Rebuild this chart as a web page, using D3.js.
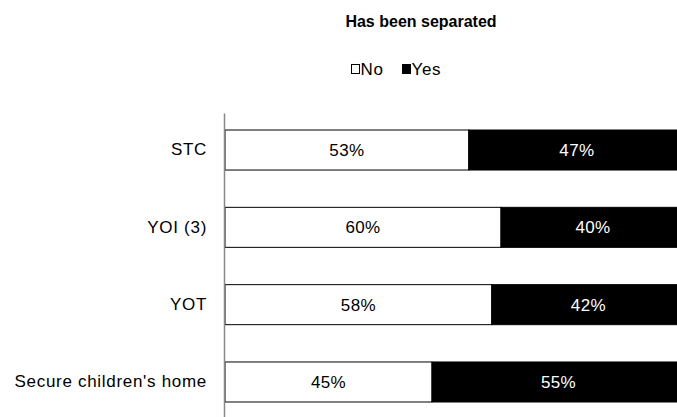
<!DOCTYPE html>
<html><head><meta charset="utf-8">
<script src="https://cdn.jsdelivr.net/npm/d3@7"></script>
<style>body{margin:0;background:#fff}svg{display:block}</style>
</head><body>
<svg id="c" width="677" height="417"></svg>
<script>
const categories = ["STC", "YOI (3)", "YOT", "Secure children's home"];
const seriesNames = ["No", "Yes"];
const noValues = [53, 60, 58, 45];
const yesValues = [47, 40, 42, 55];
const title = "Has been separated";

const svg = d3.select("#c");
const font = "Liberation Sans, Arial, sans-serif";

const x = d3.scaleLinear().domain([0, 100]).range([225, 685]);
const y = d3.scaleBand().domain(categories).range([113, 419]).paddingInner(0.4825).paddingOuter(0.22);

svg.append("text").attr("x", 421).attr("y", 27).attr("text-anchor", "middle")
  .attr("font-family", font).attr("font-weight", "bold").attr("font-size", 16).text(title);

// legend
const lg = svg.append("g").attr("font-family", font).attr("font-size", 17).attr("letter-spacing", 0.6);
const legendItems = [{name: seriesNames[0], fill: "#fff", x: 351}, {name: seriesNames[1], fill: "#000", x: 402}];
legendItems.forEach(d => {
  lg.append("rect").attr("x", d.x + 0.5).attr("y", 64.5).attr("width", 8).attr("height", 9)
    .attr("fill", d.fill).attr("stroke", "#000").attr("stroke-width", 1);
  lg.append("text").attr("x", d.x + 9.5).attr("y", 75).text(d.name);
});

const data = categories.map((c, i) => ({cat: c, no: noValues[i], yes: yesValues[i]}));

const g = svg.append("g");
data.forEach(d => {
  const yy = y(d.cat), h = y.bandwidth();
  g.append("rect").attr("x", x(0)).attr("y", yy).attr("width", x(d.no) - x(0)).attr("height", h)
    .attr("fill", "#fff").attr("stroke", "#000").attr("stroke-width", 1);
  g.append("rect").attr("x", x(d.no)).attr("y", yy).attr("width", x(d.no + d.yes) - x(d.no)).attr("height", h)
    .attr("fill", "#000").attr("stroke", "#000").attr("stroke-width", 1);
  g.append("text").attr("x", (x(0) + x(d.no)) / 2).attr("y", yy + h / 2).attr("dy", "0.36em")
    .attr("text-anchor", "middle").attr("font-family", font).attr("font-size", 17).attr("letter-spacing", 0.4)
    .attr("fill", "#000").text(d.no + "%");
  g.append("text").attr("x", (x(d.no) + x(d.no + d.yes)) / 2).attr("y", yy + h / 2).attr("dy", "0.36em")
    .attr("text-anchor", "middle").attr("font-family", font).attr("font-size", 17).attr("letter-spacing", 0.4)
    .attr("fill", "#fff").text(d.yes + "%");
});

const ax = svg.append("g").attr("transform", "translate(224,0)")
  .call(d3.axisLeft(y).tickSize(0).tickPadding(17));
ax.select(".domain").attr("stroke", "#888").attr("stroke-width", 1.5);
ax.selectAll("text").attr("font-family", font).attr("font-size", 17).attr("letter-spacing", 0.7).attr("fill", "#000");
</script>
</body></html>
